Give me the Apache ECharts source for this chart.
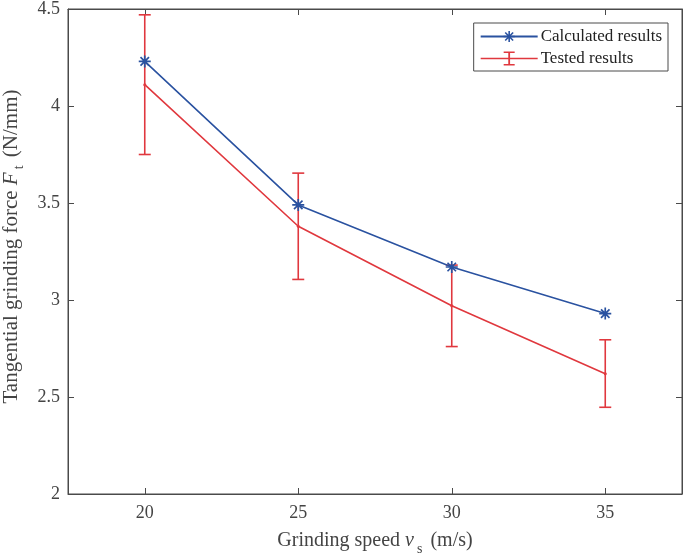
<!DOCTYPE html>
<html>
<head>
<meta charset="utf-8">
<script src="https://cdn.jsdelivr.net/npm/echarts@6/dist/echarts.min.js"></script>
<style>
html,body{margin:0;padding:0;background:#fff;}
#chart{width:685px;height:556px;}
</style>
</head>
<body>
<div id="chart"></div>
<script>
const speeds = [20, 25, 30, 35];
const calculated = [4.23, 3.49, 3.17, 2.93];
const tested = [4.11, 3.38, 2.97, 2.62];
const testedLow = [3.75, 3.106, 2.76, 2.447];
const testedHigh = [4.47, 3.654, 3.18, 2.795];
const xTicks = [20, 25, 30, 35];
const yTicks = [2, 2.5, 3, 3.5, 4, 4.5];

const BLUE = '#2a52a0';
const RED = '#e0383e';
const AXIS = '#4a4a4a';
const FONT = '"Liberation Serif", "Times New Roman", serif';

const asterisk = 'path://M4.3,0H5.7V10H4.3Z M0,4.3H10V5.7H0Z M1.96,0.97L9.03,8.04L8.04,9.03L0.97,1.96Z M1.96,9.03L0.97,8.04L8.04,0.97L9.03,1.96Z';
const errIcon = 'path://M0,6.3H57V7.7H0Z M27.6,0H29.4V14H27.6Z M23,0H34V1.5H23Z M23,12.5H34V14H23Z';

const chart = echarts.init(document.getElementById('chart'));
const errData = speeds.map((s, i) => [s, testedLow[i], testedHigh[i]]);

const mirrorX = {
  type: 'value', min: 17.5, max: 37.5, interval: 2.5, position: 'top',
  axisLine: {show: true, onZero: false, lineStyle: {color: AXIS, width: 1}},
  axisTick: {show: true, inside: true, length: 6, lineStyle: {color: AXIS}, customValues: xTicks},
  axisLabel: {show: false}, splitLine: {show: false}
};
const mirrorY = {
  type: 'value', min: 2, max: 4.5, interval: 0.5, position: 'right',
  axisLine: {show: true, onZero: false, lineStyle: {color: AXIS, width: 1}},
  axisTick: {show: true, inside: true, length: 6, lineStyle: {color: AXIS}},
  axisLabel: {show: false}, splitLine: {show: false}
};

chart.setOption({
  animation: false,
  textStyle: {fontFamily: FONT},
  grid: {left: 68, right: 3, top: 9, bottom: 62, containLabel: false,
         outerBoundsMode: 'none',
         show: true, borderColor: AXIS, borderWidth: 1},
  legend: {
    right: 17, top: 23,
    orient: 'vertical',
    itemWidth: 57, itemHeight: 14, itemGap: 5,
    padding: [5, 6, 4, 6],
    borderColor: AXIS, borderWidth: 1, borderRadius: 0,
    backgroundColor: '#fff',
    textStyle: {fontFamily: FONT, fontSize: 17, color: '#222', padding: [0,0,0,-2]},
    data: [
      {name: 'Calculated results'},
      {name: 'Tested results', icon: errIcon, itemStyle: {color: RED}}
    ]
  },
  xAxis: [{
    type: 'value', min: 17.5, max: 37.5,
    interval: 2.5, position: 'bottom',
    axisLine: {show: true, onZero: false, lineStyle: {color: AXIS, width: 1}},
    axisTick: {show: true, inside: true, length: 6, lineStyle: {color: AXIS},
               customValues: xTicks},
    axisLabel: {color: '#444', fontSize: 18, fontFamily: FONT, margin: 10,
                customValues: xTicks},
    splitLine: {show: false},
    name: '{n|Grinding speed }{i|v}{s|s}{n| (m/s)}',
    nameLocation: 'middle', nameGap: 32,
    nameTextStyle: {
      color: '#444',
      rich: {
        n: {fontSize: 20, fontFamily: FONT, color: '#444'},
        i: {fontSize: 20, fontFamily: FONT, fontStyle: 'italic', color: '#444'},
        s: {fontSize: 14, fontFamily: FONT, color: '#444', padding: [16, 3, 0, 3]}
      }
    }
  }, mirrorX],
  yAxis: [{
    type: 'value', min: 2, max: 4.5, interval: 0.5, position: 'left',
    axisLine: {show: true, lineStyle: {color: AXIS, width: 1}},
    axisTick: {show: true, inside: true, length: 6, lineStyle: {color: AXIS}},
    axisLabel: {color: '#444', fontSize: 18, fontFamily: FONT, margin: 8,
                customValues: yTicks,
                formatter: v => String(+v.toFixed(1))},
    splitLine: {show: false},
    name: '{n|Tangential grinding force }{i|F}{s|t}{n| (N/mm)}',
    nameLocation: 'middle', nameGap: 37,
    nameTextStyle: {
      color: '#444',
      padding: [0, 0, 0, 10],
      rich: {
        n: {fontSize: 21, fontFamily: FONT, color: '#444'},
        i: {fontSize: 21, fontFamily: FONT, fontStyle: 'italic', color: '#444'},
        s: {fontSize: 14, fontFamily: FONT, color: '#444', padding: [16, 3, 0, 3]}
      }
    }
  }, mirrorY],
  series: [
    {
      name: 'Calculated results',
      type: 'line',
      data: speeds.map((s, i) => [s, calculated[i]]),
      color: BLUE,
      lineStyle: {color: BLUE, width: 1.6},
      symbol: asterisk, symbolSize: 12,
      itemStyle: {color: BLUE},
      z: 3
    },
    {
      name: 'Tested results',
      type: 'line',
      data: speeds.map((s, i) => [s, tested[i]]),
      color: RED,
      lineStyle: {color: RED, width: 1.6},
      symbol: 'circle', symbolSize: 3,
      itemStyle: {color: RED},
      z: 2
    },
    {
      name: 'Tested results',
      type: 'custom',
      data: errData,
      encode: {x: 0, y: [1, 2]},
      renderItem: function (params, api) {
        const x = api.value(0);
        const lo = api.coord([x, api.value(1)]);
        const hi = api.coord([x, api.value(2)]);
        const hw = 6;
        const st = {stroke: RED, lineWidth: 1.6, fill: null};
        return {
          type: 'group',
          children: [
            {type: 'line', shape: {x1: lo[0], y1: lo[1], x2: hi[0], y2: hi[1]}, style: st},
            {type: 'line', shape: {x1: lo[0]-hw, y1: lo[1], x2: lo[0]+hw, y2: lo[1]}, style: st},
            {type: 'line', shape: {x1: hi[0]-hw, y1: hi[1], x2: hi[0]+hw, y2: hi[1]}, style: st}
          ]
        };
      },
      z: 2
    }
  ]
});
</script>
</body>
</html>
